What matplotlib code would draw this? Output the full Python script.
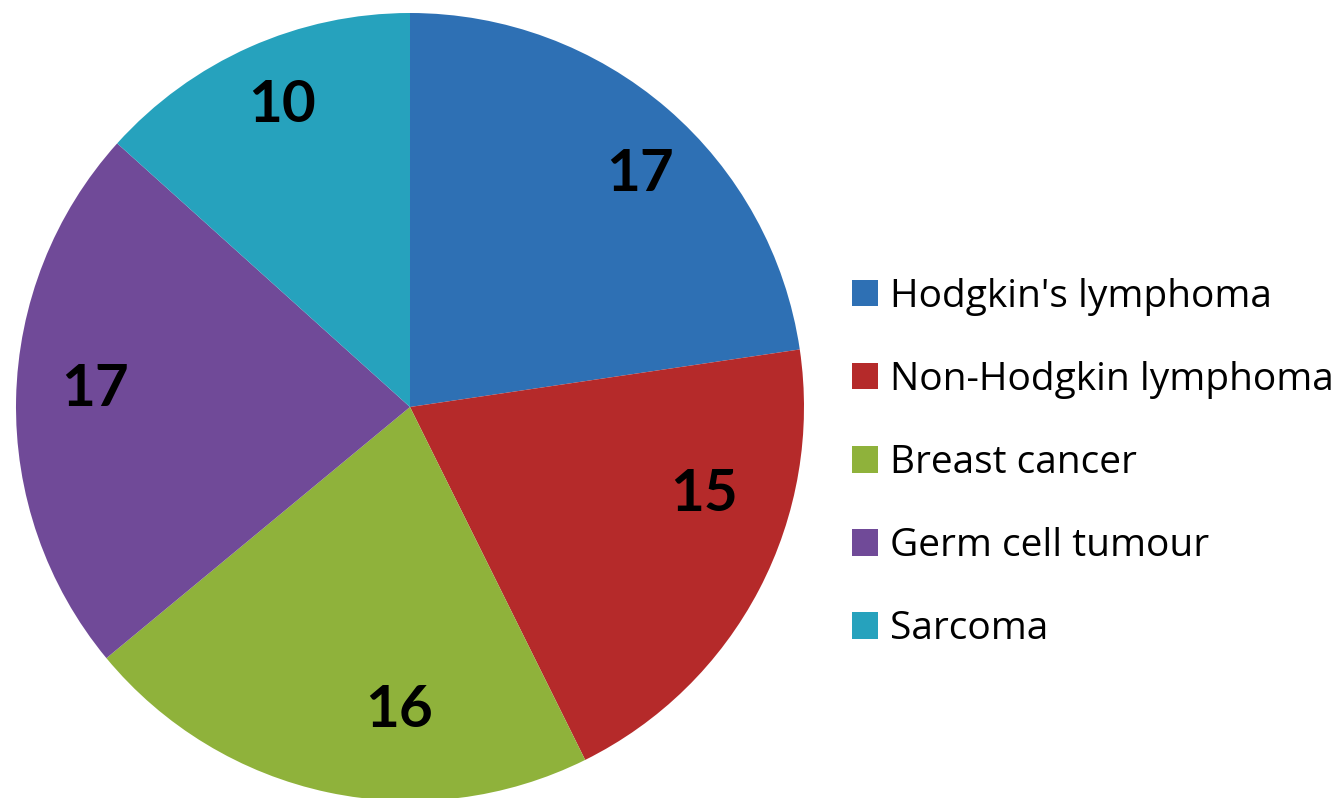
import numpy as np
import matplotlib.pyplot as plt
from matplotlib.patches import Patch

categories = ["Hodgkin's lymphoma", "Non-Hodgkin lymphoma", "Breast cancer",
              "Germ cell tumour", "Sarcoma"]
values = [17, 15, 16, 17, 10]
colors = ["#2E70B4", "#B52A2A", "#8FB23B", "#704A98", "#26A2BD"]

# label placement tweaks (degrees off slice middle, radius fraction)
label_shift = [-4, 11, 10, -2, -1]
label_rad = [0.83, 0.78, 0.77, 0.80, 0.83]

fig = plt.figure(figsize=(13.38, 7.98), dpi=100)
ax = fig.add_axes([0, 0, 1, 1])

cx, cy, r = 410, 391, 394
wedges, _ = ax.pie(values, colors=colors, startangle=90, counterclock=False,
                   center=(cx, cy), radius=r, frame=True,
                   wedgeprops=dict(linewidth=0))
ax.set_xlim(0, 1338)
ax.set_ylim(0, 798)
ax.set_aspect('equal')
ax.axis('off')

total = sum(values)
start = 90.0
for v, sh, rf in zip(values, label_shift, label_rad):
    span = v / total * 360
    mid = np.deg2rad(start - span / 2 + sh)
    ax.text(cx + rf * r * np.cos(mid), cy + rf * r * np.sin(mid), str(v),
            ha='center', va='center', fontsize=42, fontweight='bold',
            family='Lato', color='black')
    start -= span

handles = [Patch(facecolor=c, edgecolor='none') for c in colors]
ax.legend(handles, categories, loc='upper left', bbox_to_anchor=(836, 798 - 262),
          bbox_transform=ax.transData, frameon=False,
          prop={'family': 'Open Sans', 'size': 28},
          handlelength=0.68, handleheight=0.68, handletextpad=0.3,
          labelspacing=1.16, borderaxespad=0)

fig.savefig("out.png", dpi=100)
